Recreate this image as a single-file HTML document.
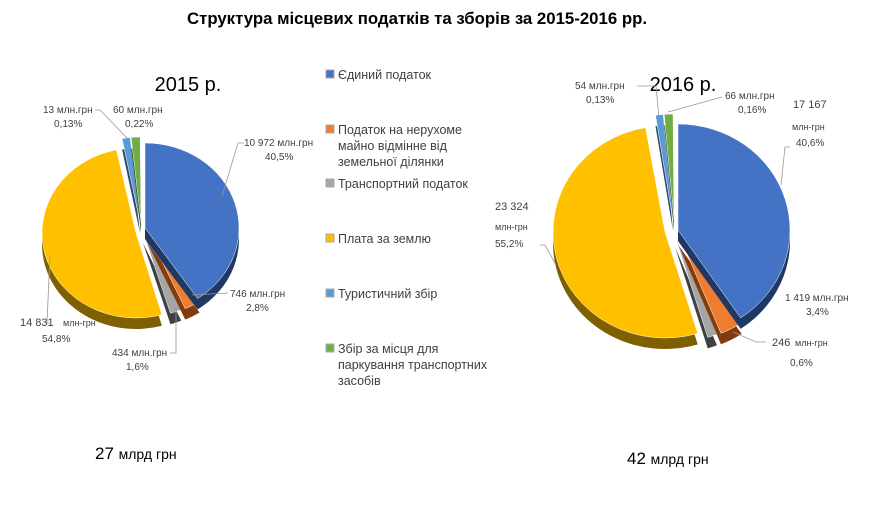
<!DOCTYPE html>
<html><head><meta charset="utf-8"><style>
body{margin:0;background:#fff;width:893px;height:507px;overflow:hidden;font-family:"Liberation Sans",sans-serif;}
svg text{font-family:"Liberation Sans",sans-serif;}
</style></head><body>
<svg id="s" width="893" height="507" xmlns="http://www.w3.org/2000/svg">
<text x="417" y="24" text-anchor="middle" font-size="16.8" font-weight="bold">Структура  місцевих податків та зборів за 2015-2016 рр.</text>
<text x="188" y="91" text-anchor="middle" font-size="20">2015 р.</text>
<text x="683" y="91" text-anchor="middle" font-size="20">2016 р.</text>
<g id="pies"></g>
<g font-size="10" fill="#404040">
<text x="43" y="113">13 млн.грн</text><text x="54" y="127">0,13%</text>
<text x="113" y="113">60 млн.грн</text><text x="125" y="127">0,22%</text>
<text x="244" y="146">10 972 млн.грн</text><text x="265" y="160">40,5%</text>
<text x="230" y="297">746 млн.грн</text><text x="246" y="311">2,8%</text>
<text x="112" y="356">434 млн.грн</text><text x="126" y="370">1,6%</text>
<text x="20" y="326" font-size="11">14  831</text><text x="63" y="326" font-size="9" font-family="Liberation Serif">млн-грн</text>
<text x="42" y="342">54,8%</text>
<text x="575" y="89">54 млн.грн</text><text x="586" y="103">0,13%</text>
<text x="725" y="99">66 млн.грн</text><text x="738" y="113">0,16%</text>
<text x="793" y="108" font-size="11">17  167</text><text x="792" y="130" font-size="9" font-family="Liberation Serif">млн-грн</text><text x="796" y="146">40,6%</text>
<text x="495" y="210" font-size="11">23  324</text><text x="495" y="230" font-size="9" font-family="Liberation Serif">млн-грн</text><text x="495" y="247">55,2%</text>
<text x="785" y="301">1 419 млн.грн</text><text x="806" y="315">3,4%</text>
<text x="772" y="346" font-size="11">246</text><text x="795" y="346" font-size="9" font-family="Liberation Serif">млн-грн</text>
<text x="790" y="366">0,6%</text>
</g>
<g stroke="#999" stroke-width="0.8" fill="none">
<polyline points="244,143 238,143 222,196"/>
<polyline points="228,293 192,295"/>
<polyline points="170,353 176,353 176,308"/>
<polyline points="51,323 47,323 50,255"/>
<polyline points="95,110 100,110 127,138"/>
<polyline points="637,86 656,86 659,118"/>
<polyline points="722,97 668,112"/>
<polyline points="790,147 785,147 781,185"/>
<polyline points="540,245 545,245 556,265"/>
<polyline points="766,342 756,342 733,332"/>
</g>
<g font-size="12.5" fill="#404040">
<text x="338" y="79">Єдиний податок</text>
<text x="338" y="134">Податок на нерухоме</text><text x="338" y="150">майно відмінне  від</text><text x="338" y="166">земельної ділянки</text>
<text x="338" y="188">Транспортний  податок</text>
<text x="338" y="243">Плата за землю</text>
<text x="338" y="298">Туристичний збір</text>
<text x="338" y="353">Збір за місця для</text><text x="338" y="369">паркування транспортних</text><text x="338" y="385">засобів</text>
</g>
<g>
<rect x="326" y="70" width="8" height="8" fill="#4472c4" stroke="#aaa"/>
<rect x="326" y="125" width="8" height="8" fill="#ed7d31" stroke="#aaa"/>
<rect x="326" y="179" width="8" height="8" fill="#a5a5a5" stroke="#aaa"/>
<rect x="326" y="234" width="8" height="8" fill="#ffc000" stroke="#aaa"/>
<rect x="326" y="289" width="8" height="8" fill="#5b9bd5" stroke="#aaa"/>
<rect x="326" y="344" width="8" height="8" fill="#70ad47" stroke="#aaa"/>
</g>
<text x="95" y="459" font-size="17">27 <tspan font-size="14">млрд грн</tspan></text>
<text x="627" y="464" font-size="17">42 <tspan font-size="14">млрд грн</tspan></text>
</svg>
<script>
var g=document.getElementById('pies'),NS='http://www.w3.org/2000/svg';
function pt(cx,cy,rx,ry,a){a=a*Math.PI/180;return [cx+rx*Math.sin(a),cy-ry*Math.cos(a)];}
function sl(cx,cy,rx,ry,a0,a1,c,d,dx,dy,dep){cx+=dx;cy+=dy;
 var p0=pt(cx,cy,rx,ry,a0),p1=pt(cx,cy,rx,ry,a1),lg=(a1-a0)>180?1:0;
 var side=document.createElementNS(NS,'path');
 side.setAttribute('d','M'+cx+','+(cy+dep)+' L'+p0[0]+','+(p0[1]+dep)+' A'+rx+','+ry+' 0 '+lg+' 1 '+p1[0]+','+(p1[1]+dep)+' Z');
 side.setAttribute('fill',d);g.appendChild(side);
 var t=document.createElementNS(NS,'path');
 t.setAttribute('d','M'+cx+','+cy+' L'+p0[0]+','+p0[1]+' A'+rx+','+ry+' 0 '+lg+' 1 '+p1[0]+','+p1[1]+' Z');
 t.setAttribute('fill',c);t.setAttribute('stroke','#fff');t.setAttribute('stroke-width','0.5');g.appendChild(t);}
function pie(cx,cy,rx,ry,dep,s){s.forEach(function(q){sl(cx,cy,rx,ry,q[0],q[1],q[2],q[3],q[4],q[5],dep);});}
var B=['#4472c4','#1f3864'],O=['#ed7d31','#843c0c'],G=['#a5a5a5','#404040'],Y=['#ffc000','#7f6000'],L=['#5b9bd5','#2e4e6b'],N=['#70ad47','#385723'];
pie(145,228,94,85,11,[
 [164,348,Y[0],Y[1],-9,5],
 [156,163,G[0],G[1],-2,4],
 [146,156,O[0],O[1],2,3],
 [0,146,B[0],B[1],0,0],
 [349,354,L[0],L[1],-5,-6],
 [354,359.5,N[0],N[1],-4,-6]]);
pie(678,230,112,106,11,[
 [163,350,Y[0],Y[1],-13,2],
 [158,163,G[0],G[1],-3,6],
 [146,158,O[0],O[1],1,5],
 [0,146,B[0],B[1],0,0],
 [351,355,L[0],L[1],-5,-10],
 [355,359.5,N[0],N[1],-4,-10]]);
</script>
</body></html>
